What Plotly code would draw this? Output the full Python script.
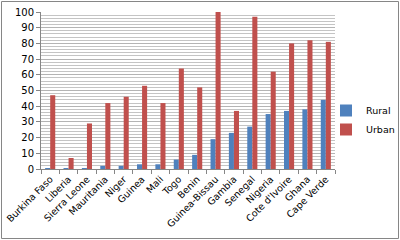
import plotly.graph_objects as go

countries = ["Burkina Faso", "Liberia", "Sierra Leone", "Mauritania", "Niger", "Guinea",
             "Mali", "Togo", "Benin", "Guinea-Bissau", "Gambia", "Senegal", "Nigeria",
             "Cote d'Ivoire", "Ghana", "Cape Verde"]
rural = [0.5, 0.5, 0.5, 2, 2, 3, 3, 6, 9, 19, 23, 27, 35, 37, 38, 44]
urban = [47, 7, 29, 42, 46, 53, 42, 64, 52, 100, 37, 97, 62, 80, 82, 81]

W, H = 400, 240
L, R, T, B = 41, 65, 12, 71
pw, ph = W - L - R, H - T - B

fig = go.Figure()
fig.add_trace(go.Bar(name="Rural", x=countries, y=rural, marker=dict(color="#4F81BD", line=dict(width=0))))
fig.add_trace(go.Bar(name="Urban", x=countries, y=urban, marker=dict(color="#C0504D", line=dict(width=0))))

font = dict(family="DejaVu Sans", size=9, color="#000000")
fig.update_layout(
    width=W, height=H, margin=dict(l=L, r=R, t=T, b=B, autoexpand=False),
    paper_bgcolor="white", plot_bgcolor="white",
    barmode="group", bargap=0.45, bargroupgap=0.0,
    font=font, showlegend=True,
    legend=dict(xref="container", yref="container", x=0.815, y=0.5, xanchor="left", yanchor="middle",
                font=dict(family="DejaVu Sans", size=9.5),
                itemwidth=30, tracegroupgap=4, bgcolor="rgba(0,0,0,0)"),
    xaxis=dict(tickangle=-45, showline=True, linecolor="#868686", linewidth=1,
               ticks="outside", ticklen=4, tickcolor="#868686", tickson="boundaries",
               showgrid=False, tickfont=dict(family="DejaVu Sans", size=9.5)),
    yaxis=dict(range=[0, 100], dtick=10, showline=True, linecolor="#868686", linewidth=1,
               ticks="outside", ticklen=4, tickcolor="#868686",
               showgrid=True, gridcolor="#b4b4b4", gridwidth=1, zeroline=False,
               minor=dict(dtick=2, showgrid=True, gridcolor="#c4c4c4", gridwidth=1),
               tickfont=dict(family="DejaVu Sans", size=10)),
)
fig.add_shape(type="rect", xref="paper", yref="paper",
              x0=(1.5 - L) / pw, x1=(W - 1.5 - L) / pw,
              y0=(T + ph - (H - 1.5)) / ph, y1=(T + ph - 1.5) / ph,
              line=dict(color="#868686", width=1), fillcolor="rgba(0,0,0,0)", layer="below")
fig.write_html("out.html")
